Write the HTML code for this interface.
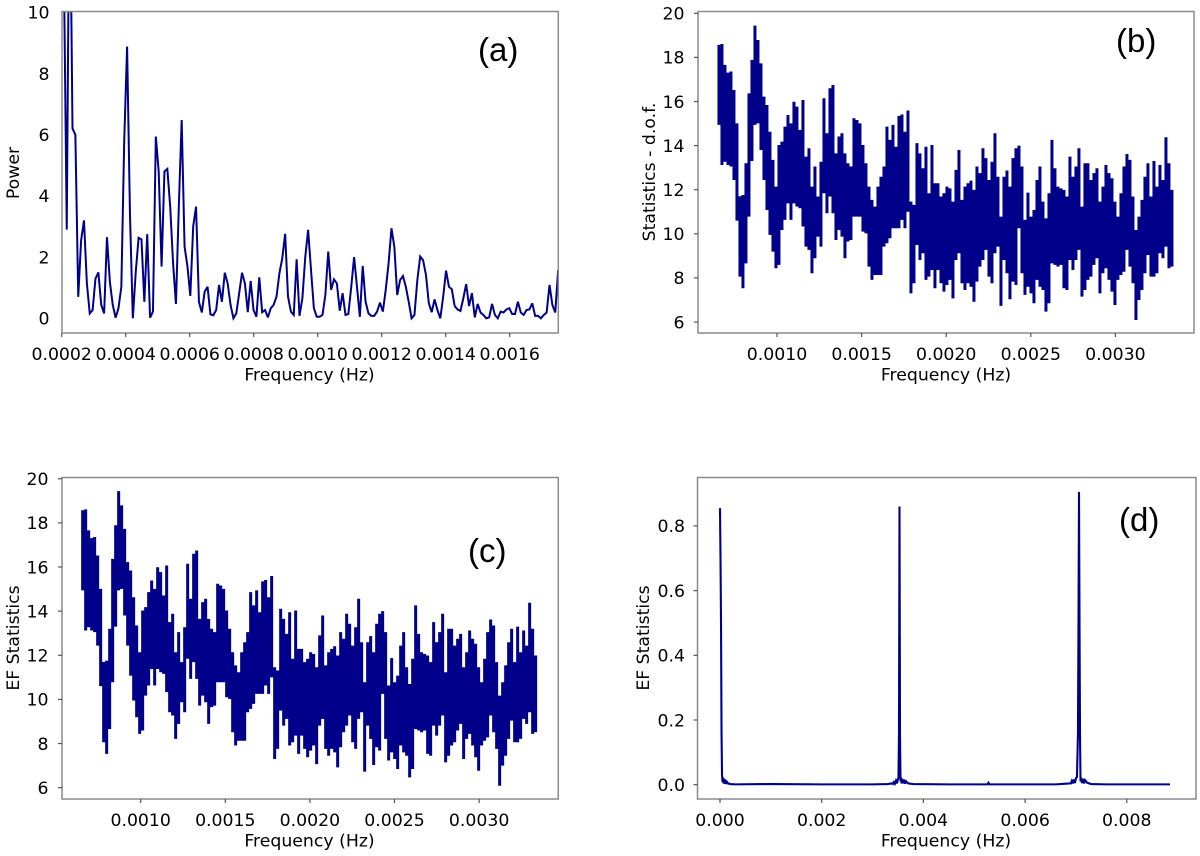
<!DOCTYPE html>
<html lang="en">
<head>
<meta charset="utf-8">
<title>Frequency spectra panels</title>
<style>
html,body{margin:0;padding:0;background:#fff;}
#figure{display:block;width:1200px;height:856px;filter:blur(0.35px);}
text{font-family:"DejaVu Sans","Liberation Sans",sans-serif;font-size:17.3px;fill:#000;}
.panel-tag{font-family:"Liberation Sans",sans-serif;font-size:33px;fill:#000;}
</style>
</head>
<body>
<svg id="figure" xmlns="http://www.w3.org/2000/svg" width="1200" height="856" viewBox="0 0 1200 856">
  <rect x="0" y="0" width="1200" height="856" fill="#fff"/>
  <text x="309.5" y="380.5" text-anchor="middle">Frequency (Hz)</text>
  <text x="946" y="380.5" text-anchor="middle">Frequency (Hz)</text>
  <text x="309.5" y="846.5" text-anchor="middle">Frequency (Hz)</text>
  <text x="946" y="846.5" text-anchor="middle">Frequency (Hz)</text>
  <text transform="translate(19,173) rotate(-90)" text-anchor="middle">Power</text>
  <text transform="translate(655,172) rotate(-90)" text-anchor="middle">Statistics - d.o.f.</text>
  <text transform="translate(19,638) rotate(-90)" text-anchor="middle">EF Statistics</text>
  <text transform="translate(649,638) rotate(-90)" text-anchor="middle">EF Statistics</text>
  <text class="panel-tag" x="478" y="61">(a)</text>
  <text class="panel-tag" x="1116" y="52">(b)</text>
  <text class="panel-tag" x="468" y="562">(c)</text>
  <text class="panel-tag" x="1119" y="531">(d)</text>
</svg>
<script>
const powerFreqStart = 0.0002068;
const powerFreqStep = 0.00000898;
const powerValues = [11.5,2.9,15.5,6.2,6.0,0.7,2.55,3.2,1.15,0.16,0.27,1.3,1.5,0.44,0.16,2.65,1.2,0.44,0.02,0.33,1.03,5.8,8.88,3.4,0,1.5,2.63,2.58,0.54,2.75,0.02,0.22,5.94,4.8,1.69,4.8,4.88,3.65,1.8,0.47,3.65,6.48,2.34,1.7,0.73,3.0,3.65,0.54,0.19,0.87,1.03,0.13,0.1,0.27,1.09,0.54,1.49,1.14,0.44,0,0.16,0.82,1.49,1.14,0.2,1.22,0.27,0.05,1.34,0.2,0.27,0.03,0.33,0.44,0.71,1.47,1.96,2.76,0.71,0.22,0.11,1.93,0.08,0.65,2.0,2.89,1.58,0.33,0.05,0.05,0.11,0.76,2.18,0.93,1.27,1.14,0.25,0.82,0.11,0.14,1.03,2.0,1.03,0.05,1.71,0.54,0.16,0.08,0.08,0.22,0.51,0.22,0.93,1.8,2.94,2.34,0.76,1.25,1.38,1.03,0.54,0,0.11,1.25,2.02,1.9,1.42,0.49,0.2,0.62,0.27,0,0.71,1.56,1.03,0.95,0.4,0.29,0.24,0.65,1.12,0.4,0.82,0.03,0.47,0.19,0.11,0,0.03,0.47,0.11,0,0.22,0.19,0.29,0.33,0.14,0.14,0.54,0.19,0.11,0.27,0.29,0.49,0.08,0.08,0,0.11,0.19,1.09,0.44,0.19,1.58];

const statFreqStart = 0.000657;
const statFreqStep = 0.00001773;
const statHigh = [18.57,18.61,17.66,17.31,17.36,16.52,15.01,11.7,11.76,13.2,16.37,17.89,19.44,18.79,17.73,16.22,15.84,14.63,13.35,12.14,14.03,14.18,14.86,15.39,15.01,15.99,15.77,14.71,16.07,13.5,13.88,12.14,13.05,11.69,13.27,16.15,14.56,16.6,16.75,13.65,14.41,14.56,13.65,13.2,13.05,15.24,15.16,15.01,14.03,13.2,12.14,11.54,11.23,12.14,12.59,13.05,14.86,14.26,14.94,13.95,15.35,15.41,14.63,15.59,11.46,11.31,14.11,13.65,12.97,13.95,11.84,14.03,12.29,12.29,11.69,11.84,12.14,12.06,11.46,12.9,13.8,11.54,12.14,12.29,12.41,11.99,13.05,12.75,13.88,13.43,12.44,13.27,14.56,12.59,10.78,12.59,12.87,12.14,13.43,13.88,14.0,13.05,10.63,11.87,10.78,11.08,12.44,13.05,11.46,10.7,11.84,14.26,12.97,12.14,12.06,11.99,11.69,13.5,12.59,13.05,13.88,11.23,13.2,13.2,12.44,12.75,12.97,11.46,12.14,13.12,12.75,12.52,11.46,10.78,11.84,13.05,13.62,13.35,11.69,10.17,10.78,11.54,12.59,13.2,11.69,13.3,12.14,13.12,12.44,14.38,13.2,11.99];
const statLow = [14.94,13.12,13.27,13.12,13.05,12.44,10.6,8.06,7.53,8.66,10.78,13.3,14.94,15.01,13.8,12.44,11.08,9.95,9.19,8.44,8.59,10.17,10.63,11.38,10.63,11.38,11.23,11.16,10.33,9.42,9.27,8.21,8.89,9.87,9.42,11.84,10.93,11.69,10.93,9.72,10.17,9.87,8.89,9.65,9.72,10.78,10.78,10.78,10.1,10.02,8.51,7.91,8.13,8.13,8.13,9.42,9.57,9.8,10.25,10.25,10.25,10.63,10.25,11.0,7.3,7.76,9.49,8.81,9.12,7.91,8.06,8.36,7.53,8.36,7.76,7.38,7.68,7.91,7.07,8.81,9.12,7.76,7.45,7.76,7.6,6.92,7.83,8.51,8.81,9.27,8.06,7.76,9.12,9.42,6.73,8.81,8.21,7.03,7.83,7.68,10.25,8.21,7.23,7.6,7.3,6.85,7.91,7.6,7.45,6.47,6.85,8.66,8.59,8.51,8.59,7.53,7.45,8.81,8.36,8.81,9.27,7.15,7.45,7.91,8.06,8.59,8.89,7.3,8.21,8.44,7.91,7.38,6.77,7.91,8.13,8.28,9.27,8.51,7.76,6.09,7.0,7.45,8.21,9.04,8.06,8.06,8.21,9.12,8.89,9.42,8.44,8.51];

const combFreq = [0.00000,0.00001,0.00002,0.00003,0.00004,0.00005,0.00006,0.00007,0.00008,0.00009,0.00010,0.00011,0.00012,0.00013,0.00014,0.00016,0.00018,0.00020,0.00030,0.00100,0.00200,0.00300,0.00330,0.00338,0.00340,0.00342,0.00344,0.00346,0.00348,0.00350,0.00351,0.00352,0.00353,0.00354,0.00355,0.00356,0.00357,0.00358,0.00360,0.00362,0.00364,0.00366,0.00370,0.00380,0.00450,0.00526,0.00528,0.00530,0.00600,0.00660,0.00680,0.00690,0.00692,0.00694,0.00696,0.00698,0.00700,0.00702,0.00704,0.00705,0.00706,0.00707,0.00708,0.00709,0.00710,0.00712,0.00714,0.00716,0.00718,0.00722,0.00730,0.00760,0.00820,0.00885];
const combValues = [0.855,0.70,0.50,0.16,0.03,0.008,0.022,0.004,0.018,0.003,0.016,0.002,0.012,0.002,0.008,0.004,0.003,0.002,0.001,0.002,0.001,0.001,0.002,0.004,0.002,0.008,0.003,0.012,0.004,0.018,0.02,0.16,0.86,0.15,0.01,0.022,0.004,0.018,0.004,0.016,0.003,0.010,0.004,0.002,0.001,0.001,0.006,0.001,0.001,0.001,0.003,0.004,0.012,0.004,0.016,0.005,0.020,0.024,0.16,0.50,0.905,0.50,0.15,0.01,0.022,0.005,0.018,0.004,0.014,0.006,0.002,0.001,0.001,0.001];

const xTickLabelsA = ["0.0002","0.0004","0.0006","0.0008","0.0010","0.0012","0.0014","0.0016"];
const yTickLabelsA = ["0","2","4","6","8","10"];
const xTickLabelsStat = ["0.0010","0.0015","0.0020","0.0025","0.0030"];
const yTickLabelsStat = ["6","8","10","12","14","16","18","20"];
const xTickLabelsD = ["0.000","0.002","0.004","0.006","0.008"];
const yTickLabelsD = ["0.0","0.2","0.4","0.6","0.8"];

const svgNS = "http://www.w3.org/2000/svg";
const figure = document.getElementById("figure");

function make(parent, tag, attrs) {
  const el = document.createElementNS(svgNS, tag);
  for (const k in attrs) el.setAttribute(k, attrs[k]);
  parent.appendChild(el);
  return el;
}

function pointString(pts) {
  return pts.map(p => p[0].toFixed(2) + "," + p[1].toFixed(2)).join(" ");
}

function drawLine(group, clipId, pts, name, width) {
  const line = make(group, "polyline", {
    points: pointString(pts),
    fill: "none", stroke: "#00008b", "stroke-width": width, "stroke-linejoin": "miter", "stroke-miterlimit": 3,
    "clip-path": "url(#" + clipId + ")"
  });
  
  
}

/* Each sampled frequency column spans its own high-to-low excursion, so the
   dense oscillation keeps vertical spike edges and a solid interior. */
function drawBand(group, clipId, x, y, name) {
  const top = [];
  const bottom = [];
  statHigh.forEach((hi, i) => {
    const f0 = statFreqStart + (i - 0.5) * statFreqStep;
    const f1 = statFreqStart + (i + 0.5) * statFreqStep;
    top.push([x(f0), y(hi)], [x(f1), y(hi)]);
    bottom.push([x(f0), y(statLow[i])], [x(f1), y(statLow[i])]);
  });
  const band = make(group, "polygon", {
    points: pointString(top.concat(bottom.reverse())),
    fill: "#00008b", stroke: "none",
    "clip-path": "url(#" + clipId + ")"
  });
  
  
}

function drawAxes(p) {
  const g = make(figure, "g", {});
  
  
  const defs = make(g, "defs", {});
  const cp = make(defs, "clipPath", {id: p.id + "-clip"});
  make(cp, "rect", {x: p.left, y: p.top, width: p.right - p.left, height: p.bottom - p.top});
  p.draw(g, p.id + "-clip");
  const frame = make(g, "rect", {x: p.left, y: p.top, width: p.right - p.left, height: p.bottom - p.top, fill: "none", stroke: "#8a8a8a", "stroke-width": 1.5});
  
  
  p.xTicks.forEach(label => {
    const x = p.x(parseFloat(label));
    const tick = make(g, "line", {x1: x, x2: x, y1: p.bottom, y2: p.bottom + 4, stroke: "#555", "stroke-width": 1.2});
    
    
    const t = make(g, "text", {x: x, y: p.bottom + 27, "text-anchor": "middle"});
    t.textContent = label;
    
    
  });
  p.yTicks.forEach(label => {
    const y = p.y(parseFloat(label));
    if (p.yTickMarks) {
      const tick = make(g, "line", {x1: p.left - 4, x2: p.left, y1: y, y2: y, stroke: "#555", "stroke-width": 1.2});
      
      
    }
    const t = make(g, "text", {x: p.labelRight, y: y + 6.3, "text-anchor": "end"});
    t.textContent = label;
    
    
  });
}

const xA = f => 61.7 + (f - 0.0002) * 320000;
const yA = v => 318.3 - v * 30.6;
const xB = f => 777 + (f - 0.001) * 169200;
const yB = v => 322 - (v - 6) * 22.05;
const xC = f => 140.7 + (f - 0.001) * 169200;
const yC = v => 787.7 - (v - 6) * 22.07;
const xD = f => 720 + f * 50850;
const yD = v => 784.7 - v * 323.5;

drawAxes({
  id: "panel-a", left: 62, right: 558.3, top: 11.5, bottom: 333, x: xA, y: yA, labelRight: 49.5, yTickMarks: false,
  xTicks: xTickLabelsA, yTicks: yTickLabelsA,
  draw: (g, clip) => drawLine(g, clip, powerValues.map((v, i) => [xA(powerFreqStart + i * powerFreqStep), yA(v)]), "power-spectrum-line", 2)
});
drawAxes({
  id: "panel-b", left: 698, right: 1194, top: 11.5, bottom: 333, x: xB, y: yB, labelRight: 684.5, yTickMarks: true,
  xTicks: xTickLabelsStat, yTicks: yTickLabelsStat,
  draw: (g, clip) => drawBand(g, clip, xB, yB, "statistics-dof-line")
});
drawAxes({
  id: "panel-c", left: 62, right: 558.3, top: 477.5, bottom: 799, x: xC, y: yC, labelRight: 48.5, yTickMarks: true,
  xTicks: xTickLabelsStat, yTicks: yTickLabelsStat,
  draw: (g, clip) => drawBand(g, clip, xC, yC, "ef-statistics-line")
});
drawAxes({
  id: "panel-d", left: 697.5, right: 1196, top: 477.5, bottom: 799, x: xD, y: yD, labelRight: 685, yTickMarks: true,
  xTicks: xTickLabelsD, yTicks: yTickLabelsD,
  draw: (g, clip) => drawLine(g, clip, combValues.map((v, i) => [xD(combFreq[i]), yD(v)]), "ef-comb-line", 2.1)
});
</script>
</body>
</html>
